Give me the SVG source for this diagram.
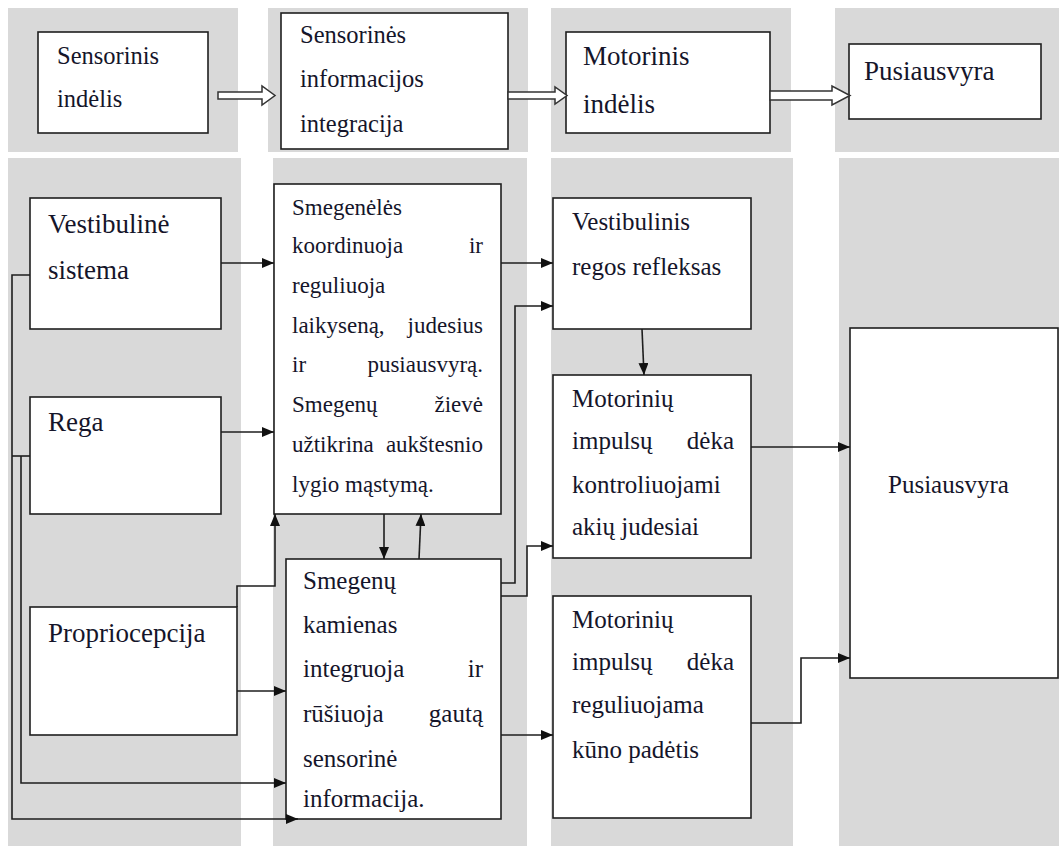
<svg xmlns="http://www.w3.org/2000/svg" width="1059" height="846" viewBox="0 0 1059 846">
<defs>
<style>
.bg{fill:#d9d9d9}
.box{fill:#fff;stroke:#1e1e1e;stroke-width:1.6}
.t{font-family:"Liberation Serif","Times New Roman",serif;fill:#15152a}
.s23{font-size:23px}
.s245{font-size:24.5px}
.s25{font-size:25px}
.s27{font-size:27px}
.e{text-anchor:end}
.c{fill:none;stroke:#1e1e1e;stroke-width:1.6}
.h{fill:#fff;stroke:#333;stroke-width:1.5}
</style>
<marker id="ah" viewBox="0 0 12 10" refX="12" refY="5" markerWidth="12" markerHeight="10" markerUnits="userSpaceOnUse" orient="auto">
<path d="M0,0 L12,5 L0,10 z" fill="#111"/>
</marker>
</defs>
<rect width="1059" height="846" fill="#fff"/>
<g id="background">
<rect class="bg" x="8" y="8" width="230" height="144"/>
<rect class="bg" x="268" y="8" width="260" height="144"/>
<rect class="bg" x="551" y="8" width="240" height="144"/>
<rect class="bg" x="835" y="8" width="224" height="144"/>
<rect class="bg" x="8" y="158" width="233" height="688"/>
<rect class="bg" x="273" y="158" width="254" height="688"/>
<rect class="bg" x="551" y="158" width="242" height="688"/>
<rect class="bg" x="839" y="158" width="220" height="688"/>
</g>
<g id="top-sensorinis">
<rect class="box" x="38" y="32" width="170" height="101"/>
<text class="t s245" x="57" y="64">Sensorinis</text>
<text class="t s245" x="57" y="107">indėlis</text>
</g>
<g id="top-integracija">
<rect class="box" x="281" y="13" width="227" height="136"/>
<text class="t s245" x="300" y="43">Sensorinės</text>
<text class="t s245" x="300" y="87">informacijos</text>
<text class="t s245" x="300" y="132">integracija</text>
</g>
<g id="top-motorinis">
<rect class="box" x="566" y="32" width="204" height="101"/>
<text class="t s27" x="583" y="65">Motorinis</text>
<text class="t s27" x="583" y="113">indėlis</text>
</g>
<g id="top-pusiausvyra">
<rect class="box" x="849" y="44" width="192" height="75"/>
<text class="t s27" x="864" y="80">Pusiausvyra</text>
</g>
<g id="vestibuline">
<rect class="box" x="30" y="198" width="191" height="131"/>
<text class="t s27" x="48" y="233">Vestibulinė</text>
<text class="t s27" x="48" y="279">sistema</text>
</g>
<g id="rega">
<rect class="box" x="30" y="397" width="191" height="117"/>
<text class="t s27" x="48" y="431">Rega</text>
</g>
<g id="propriocepcija">
<rect class="box" x="30" y="607" width="207" height="128"/>
<text class="t s27" x="48" y="642">Propriocepcija</text>
</g>
<g id="smegeneles">
<rect class="box" x="274" y="184" width="227" height="330"/>
<text class="t s23" x="292" y="215">Smegenėlės</text>
<text class="t s23" x="292" y="253">koordinuoja</text><text class="t s23 e" x="483" y="253">ir</text>
<text class="t s23" x="292" y="293">reguliuoja</text>
<text class="t s23" x="292" y="333">laikyseną,</text><text class="t s23 e" x="483" y="333">judesius</text>
<text class="t s23" x="292" y="372">ir</text><text class="t s23 e" x="483" y="372">pusiausvyrą.</text>
<text class="t s23" x="292" y="412">Smegenų</text><text class="t s23 e" x="483" y="412">žievė</text>
<text class="t s23" x="292" y="452">užtikrina</text><text class="t s23 e" x="483" y="452">aukštesnio</text>
<text class="t s23" x="292" y="492">lygio mąstymą.</text>
</g>
<g id="kamienas">
<rect class="box" x="286" y="559" width="215" height="260"/>
<text class="t s25" x="303" y="589">Smegenų</text>
<text class="t s25" x="303" y="633">kamienas</text>
<text class="t s25" x="303" y="677">integruoja</text><text class="t s25 e" x="483" y="677">ir</text>
<text class="t s25" x="303" y="722">rūšiuoja</text><text class="t s25 e" x="483" y="722">gautą</text>
<text class="t s25" x="303" y="767">sensorinė</text>
<text class="t s25" x="303" y="807">informacija.</text>
</g>
<g id="refleksas">
<rect class="box" x="553" y="198" width="198" height="131"/>
<text class="t s25" x="572" y="230">Vestibulinis</text>
<text class="t s25" x="572" y="275">regos refleksas</text>
</g>
<g id="akiu">
<rect class="box" x="553" y="375" width="198" height="183"/>
<text class="t s25" x="572" y="407">Motorinių</text>
<text class="t s25" x="572" y="449">impulsų</text><text class="t s25 e" x="734" y="449">dėka</text>
<text class="t s25" x="572" y="493">kontroliuojami</text>
<text class="t s25" x="572" y="535">akių judesiai</text>
</g>
<g id="kuno">
<rect class="box" x="553" y="596" width="198" height="222"/>
<text class="t s25" x="572" y="628">Motorinių</text>
<text class="t s25" x="572" y="670">impulsų</text><text class="t s25 e" x="734" y="670">dėka</text>
<text class="t s25" x="572" y="713">reguliuojama</text>
<text class="t s25" x="572" y="758">kūno padėtis</text>
</g>
<g id="pusiausvyra">
<rect class="box" x="850" y="328" width="208" height="350"/>
<text class="t s25" x="888" y="493">Pusiausvyra</text>
</g>
<g id="connectors">
<polygon class="h" points="218,92 262,92 262,86 275,95.5 262,105 262,99 218,99"/>
<polygon class="h" points="508,92 555,92 555,87 567,95.5 555,104 555,99 508,99"/>
<polygon class="h" points="770,91 832,91 832,86 850,95.5 832,105 832,100 770,100"/>
<path class="c" d="M221,263 H274" marker-end="url(#ah)"/>
<path class="c" d="M221,432 H274" marker-end="url(#ah)"/>
<path class="c" d="M30,275 H12 V819 H298" marker-end="url(#ah)"/>
<path class="c" d="M30,456 H12"/>
<path class="c" d="M21,456 V783 H286" marker-end="url(#ah)"/>
<path class="c" d="M237,607 V586 H275 V514" marker-end="url(#ah)"/>
<path class="c" d="M237,691 H286" marker-end="url(#ah)"/>
<path class="c" d="M384,514 V559" marker-end="url(#ah)"/>
<path class="c" d="M419,559 L421,514" marker-end="url(#ah)"/>
<path class="c" d="M501,263 H553" marker-end="url(#ah)"/>
<path class="c" d="M501,583 H515 V306 H553" marker-end="url(#ah)"/>
<path class="c" d="M501,596 H527 V546 H553" marker-end="url(#ah)"/>
<path class="c" d="M501,735 H553" marker-end="url(#ah)"/>
<path class="c" d="M642,329 L644,375" marker-end="url(#ah)"/>
<path class="c" d="M751,447 H850" marker-end="url(#ah)"/>
<path class="c" d="M751,723 H801 V658 H850" marker-end="url(#ah)"/>
</g>
</svg>
